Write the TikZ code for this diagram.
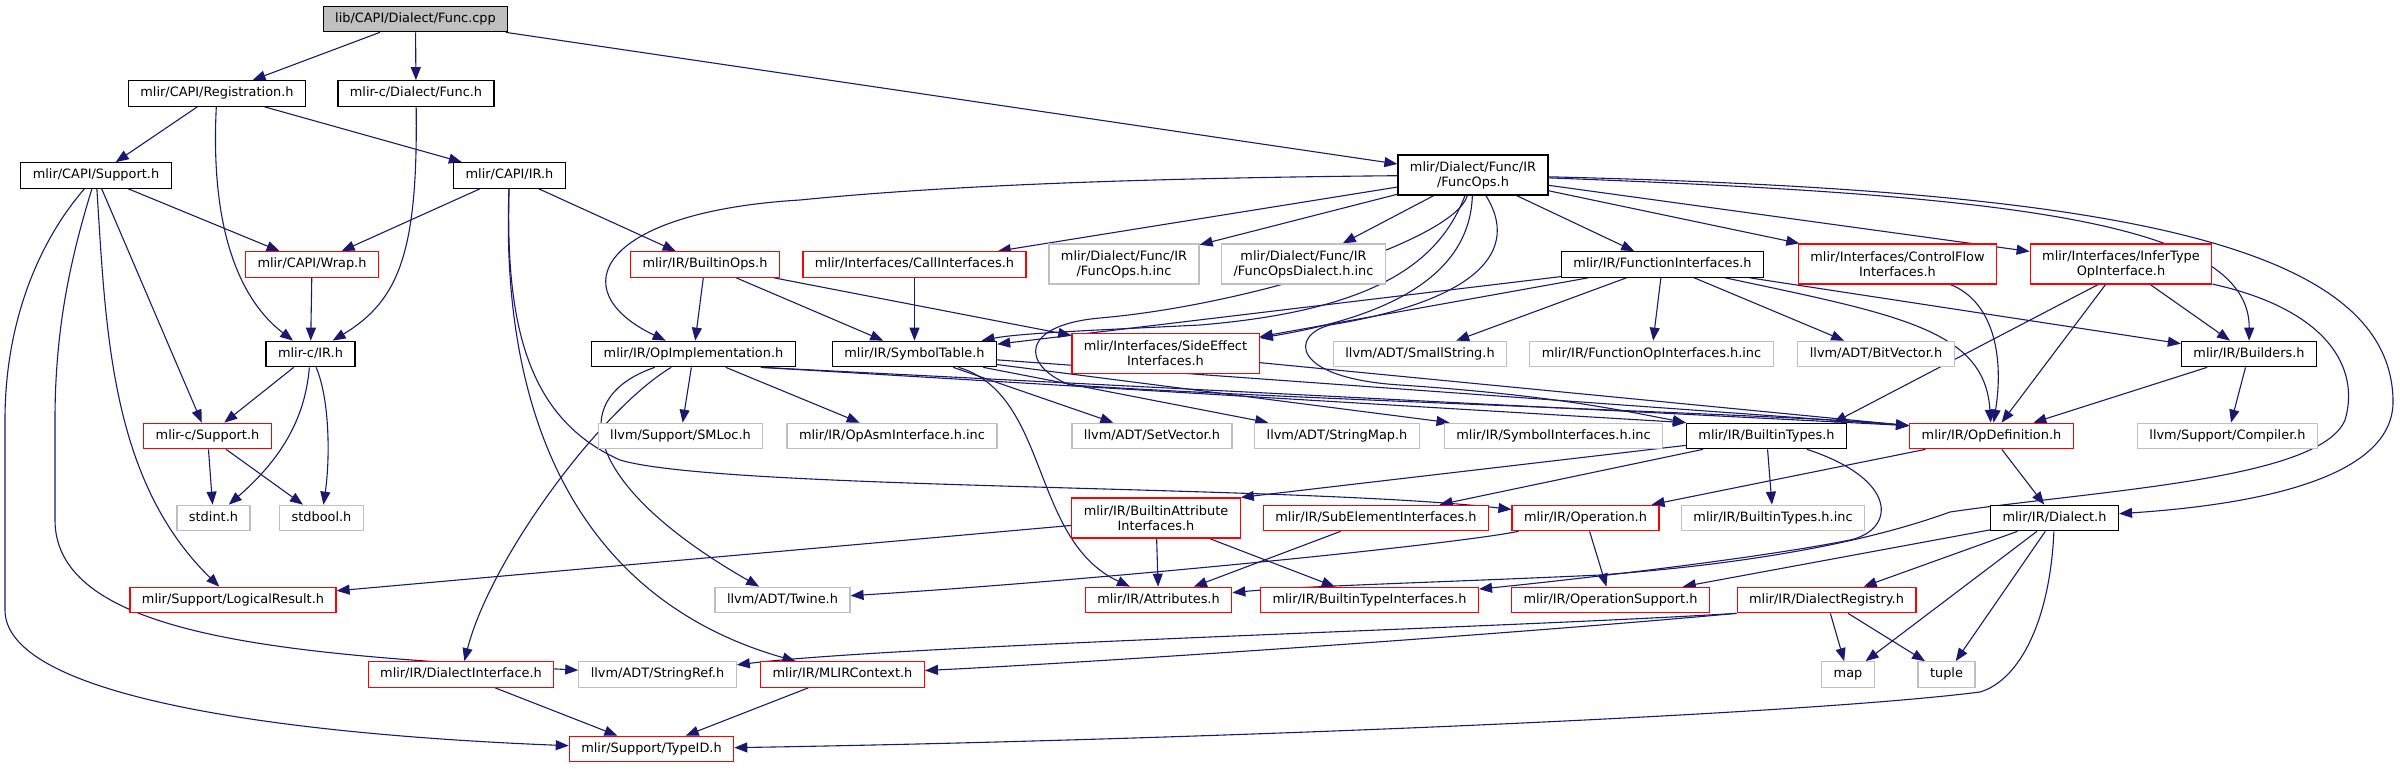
\documentclass[tikz,border=0pt]{standalone}
\usepackage{fontspec}
\setmainfont{DejaVu Sans}
\usetikzlibrary{arrows.meta, backgrounds}
\definecolor{edgeblue}{HTML}{191970}
\definecolor{boxgray}{HTML}{BFBFBF}
\tikzstyle{box} = [rectangle, line width=1.2pt, fill=white, inner xsep=12pt, inner ysep=3pt, minimum height=25.5pt]
\tikzstyle{oneline} = [text height=9.5pt, text depth=3pt]
\tikzstyle{twoline} = [align=center, minimum height=40pt]
\tikzstyle{mainfile} = [box, oneline, draw=black, fill=boxgray]
\tikzstyle{hdr} = [box, draw=black]
\tikzstyle{redhdr} = [box, draw=red]
\tikzstyle{syshdr} = [box, draw=boxgray]
\tikzstyle{arrow} = [line width=1.1pt, draw=edgeblue, -{Triangle[length=13pt,width=10pt]}]

\begin{document}
\begin{tikzpicture}[x=1pt, y=-1pt, font=\fontsize{12.9}{15}\selectfont]
\useasboundingbox (0,0) rectangle (2400,768);

\node (root) [mainfile] at (415.5,19) {lib/CAPI/Dialect/Func.cpp};
\node (reg) [hdr, oneline] at (217,93.5) {mlir/CAPI/Registration.h};
\node (cfunc) [hdr, oneline] at (416,93.5) {mlir-c/Dialect/Func.h};
\node (capisupport) [hdr, oneline] at (96,175.5) {mlir/CAPI/Support.h};
\node (capiir) [hdr, oneline] at (509.5,175.5) {mlir/CAPI/IR.h};
\node (funcops) [hdr, twoline] at (1473,175) {mlir/Dialect/Func/IR\\/FuncOps.h};
\node (wrap) [redhdr, oneline] at (312,264.5) {mlir/CAPI/Wrap.h};
\node (builtinops) [redhdr, oneline] at (705,264.5) {mlir/IR/BuiltinOps.h};
\node (callif) [redhdr, oneline] at (914.5,264.5) {mlir/Interfaces/CallInterfaces.h};
\node (funcopsinc) [syshdr, twoline] at (1124,264) {mlir/Dialect/Func/IR\\/FuncOps.h.inc};
\node (funcdialinc) [syshdr, twoline] at (1303.5,264) {mlir/Dialect/Func/IR\\/FuncOpsDialect.h.inc};
\node (funcif) [hdr, oneline] at (1662.5,264.5) {mlir/IR/FunctionInterfaces.h};
\node (cfif) [redhdr, twoline] at (1897.5,264) {mlir/Interfaces/ControlFlow\\Interfaces.h};
\node (infer) [redhdr, twoline] at (2121,264) {mlir/Interfaces/InferType\\OpInterface.h};
\node (cir) [hdr, oneline] at (310.5,354) {mlir-c/IR.h};
\node (opimpl) [hdr, oneline] at (693.5,354) {mlir/IR/OpImplementation.h};
\node (symtab) [hdr, oneline] at (914.5,354) {mlir/IR/SymbolTable.h};
\node (sideeff) [redhdr, twoline] at (1165.5,353.5) {mlir/Interfaces/SideEffect\\Interfaces.h};
\node (smallstr) [syshdr, oneline] at (1420,354) {llvm/ADT/SmallString.h};
\node (funcopinc) [syshdr, oneline] at (1651.5,354) {mlir/IR/FunctionOpInterfaces.h.inc};
\node (bitvec) [syshdr, oneline] at (1876,354) {llvm/ADT/BitVector.h};
\node (builders) [hdr, oneline] at (2249,354) {mlir/IR/Builders.h};
\node (csupport) [redhdr, oneline] at (207.5,436) {mlir-c/Support.h};
\node (smloc) [syshdr, oneline] at (680.5,436) {llvm/Support/SMLoc.h};
\node (opasminc) [syshdr, oneline] at (892,436) {mlir/IR/OpAsmInterface.h.inc};
\node (setvec) [syshdr, oneline] at (1152,436) {llvm/ADT/SetVector.h};
\node (strmap) [syshdr, oneline] at (1337,436) {llvm/ADT/StringMap.h};
\node (syminc) [syshdr, oneline] at (1553.5,436) {mlir/IR/SymbolInterfaces.h.inc};
\node (btypes) [hdr, oneline] at (1766.5,436) {mlir/IR/BuiltinTypes.h};
\node (opdef) [redhdr, oneline] at (1991.5,436) {mlir/IR/OpDefinition.h};
\node (compiler) [syshdr, oneline] at (2227.5,436) {llvm/Support/Compiler.h};
\node (stdint) [syshdr, oneline] at (213.5,518) {stdint.h};
\node (stdbool) [syshdr, oneline] at (321.5,518) {stdbool.h};
\node (battrif) [redhdr, twoline] at (1156,518) {mlir/IR/BuiltinAttribute\\Interfaces.h};
\node (subel) [redhdr, oneline] at (1376,518) {mlir/IR/SubElementInterfaces.h};
\node (operation) [redhdr, oneline] at (1585.5,518) {mlir/IR/Operation.h};
\node (btypesinc) [syshdr, oneline] at (1773,518) {mlir/IR/BuiltinTypes.h.inc};
\node (dialect) [hdr, oneline] at (2054.5,518) {mlir/IR/Dialect.h};
\node (logres) [redhdr, oneline] at (233,600) {mlir/Support/LogicalResult.h};
\node (twine) [syshdr, oneline] at (782.5,600) {llvm/ADT/Twine.h};
\node (attrs) [redhdr, oneline] at (1158.5,600) {mlir/IR/Attributes.h};
\node (btypeif) [redhdr, oneline] at (1369.5,600) {mlir/IR/BuiltinTypeInterfaces.h};
\node (opsupport) [redhdr, oneline] at (1610.5,600) {mlir/IR/OperationSupport.h};
\node (dialreg) [redhdr, oneline] at (1826.5,600) {mlir/IR/DialectRegistry.h};
\node (dialif) [redhdr, oneline] at (461,674.5) {mlir/IR/DialectInterface.h};
\node (strref) [syshdr, oneline] at (657.5,674.5) {llvm/ADT/StringRef.h};
\node (mlirctx) [redhdr, oneline] at (842.5,674.5) {mlir/IR/MLIRContext.h};
\node (map) [syshdr, oneline] at (1848,674.5) {map};
\node (tuple) [syshdr, oneline] at (1946.5,674.5) {tuple};
\node (typeid) [redhdr, oneline] at (651.5,749) {mlir/Support/TypeID.h};

\begin{scope}[on background layer]
\draw [arrow] (root) -- (reg);
\draw [arrow] (root) -- (cfunc);
\draw [arrow] (root) -- (funcops);

\draw [arrow] (reg) -- (capisupport);
\draw [arrow] (reg) .. controls (210,230) and (240,300) .. (cir);
\draw [arrow] (reg) -- (capiir);
\draw [arrow] (cfunc) .. controls (418,250) and (400,300) .. (cir);

\draw [arrow] (capisupport) -- (wrap);
\draw [arrow] (capisupport) -- (csupport);
\draw [arrow] (capisupport) .. controls (106,330) and (110,480) .. (logres);
\draw [arrow] (capisupport) .. controls (70,260) and (55,330) .. (55,420) -- (55,520) .. controls (55,640) and (300,655) .. (strref);
\draw [arrow] (capisupport) .. controls (40,240) and (5,320) .. (5,420) -- (5,610) .. controls (5,700) and (300,735) .. (typeid);

\draw [arrow] (capiir) -- (wrap);
\draw [arrow] (capiir) -- (builtinops);
\draw [arrow] (capiir) .. controls (500,420) and (580,600) .. (mlirctx);
\draw [arrow] (capiir) .. controls (505,330) and (530,420) .. (620,460) .. controls (720,490) and (1300,485) .. (operation);

\draw [arrow] (wrap) -- (cir);
\draw [arrow] (builtinops) -- (opimpl);
\draw [arrow] (builtinops) -- (symtab);
\draw [arrow] (builtinops) -- (sideeff);
\draw [arrow] (callif) -- (symtab);

\draw [arrow] (funcops) .. controls (1150,178) and (950,185) .. (800,200) .. controls (600,212) and (560,290) .. (opimpl);
\draw [arrow] (funcops) -- (callif);
\draw [arrow] (funcops) -- (funcopsinc);
\draw [arrow] (funcops) -- (funcdialinc);
\draw [arrow] (funcops) .. controls (1440,260) and (1380,310) .. (1200,325) .. controls (1100,330) and (1020,333) .. (symtab);
\draw [arrow] (funcops) .. controls (1470,270) and (1400,315) .. (sideeff);
\draw [arrow] (funcops) .. controls (1520,250) and (1480,300) .. (1330,325) .. controls (1290,335) and (1290,378) .. (1400,385) .. controls (1550,395) and (1620,410) .. (btypes.north west);
\draw [arrow] (funcops) .. controls (1455,240) and (1250,305) .. (1100,318) .. controls (1020,325) and (1020,365) .. (1070,385) .. controls (1300,400) and (1800,415) .. ([yshift=-3pt]opdef.north west);
\draw [arrow] (funcops) -- (funcif);
\draw [arrow] (funcops) -- (cfif);
\draw [arrow] (funcops) -- (infer);
\draw [arrow] (funcops) .. controls (2000,195) and (2250,220) .. (builders);
\draw [arrow] (funcops) .. controls (2100,190) and (2390,240) .. (2393,400) .. controls (2395,480) and (2250,505) .. (dialect);

\draw [arrow] (funcif) -- (symtab);
\draw [arrow] (funcif) -- (sideeff);
\draw [arrow] (funcif) -- (smallstr);
\draw [arrow] (funcif) -- (funcopinc);
\draw [arrow] (funcif) -- (bitvec);
\draw [arrow] (funcif) -- (builders);
\draw [arrow] (funcif) .. controls (1900,315) and (1985,330) .. (opdef);
\draw [arrow] (cfif) .. controls (1990,300) and (2005,350) .. (opdef);

\draw [arrow] (infer) -- (builders);
\draw [arrow] (infer) -- (opdef);
\draw [arrow] ([xshift=-23pt]infer.south) -- ([xshift=67pt]btypes.north);
\draw [arrow] (infer) .. controls (2330,310) and (2360,370) .. (2345,420) .. controls (2320,480) and (2100,490) .. (1950,512) .. controls (1900,530) and (1800,560) .. (1600,575) .. controls (1450,582) and (1300,586) .. (attrs);

\draw [arrow] (cir) -- (csupport);
\draw [arrow] (cir) .. controls (305,420) and (280,460) .. (stdint);
\draw [arrow] (cir) .. controls (330,400) and (330,460) .. (stdbool);
\draw [arrow] (csupport) -- (stdint);
\draw [arrow] (csupport) -- (stdbool);

\draw [arrow] (opimpl) -- (smloc);
\draw [arrow] (opimpl) -- (opasminc);
\draw [arrow] (opimpl) .. controls (600,410) and (490,560) .. (dialif);
\draw [arrow] (opimpl) .. controls (560,400) and (590,490) .. (twine);
\draw [arrow] ([xshift=-35pt]opimpl.south east) -- (btypes.north west);
\draw [arrow] ([xshift=-35pt]opimpl.south east) -- ([yshift=-3pt]opdef.north west);

\draw [arrow] (symtab) .. controls (1050,395) and (1030,540) .. (attrs);
\draw [arrow] (symtab) -- (setvec);
\draw [arrow] (symtab) -- (strmap);
\draw [arrow] (symtab) -- (syminc);
\draw [arrow] (symtab) -- ([yshift=-3pt]opdef.north west);
\draw [arrow] (sideeff) -- ([yshift=-3pt]opdef.north west);

\draw [arrow] (builders) -- (opdef);
\draw [arrow] (builders) -- (compiler);
\draw [arrow] (opdef) -- (operation);
\draw [arrow] (opdef) -- (dialect);

\draw [arrow] (btypes) -- (battrif.north east);
\draw [arrow] (btypes) -- (subel);
\draw [arrow] (btypes) -- (btypesinc);
\draw [arrow] (btypes) .. controls (1900,480) and (1895,530) .. (1850,540) .. controls (1750,560) and (1550,582) .. (btypeif);

\draw [arrow] (operation) .. controls (1450,545) and (1100,580) .. (twine);
\draw [arrow] (operation) -- (opsupport);
\draw [arrow] (battrif) -- (attrs);
\draw [arrow] (battrif) -- (btypeif);
\draw [arrow] (battrif) -- (logres);
\draw [arrow] (subel) -- (attrs);

\draw [arrow] (dialect) -- (opsupport);
\draw [arrow] (dialect) -- (dialreg);
\draw [arrow] (dialect) -- (map);
\draw [arrow] (dialect) -- (tuple);
\draw [arrow] (dialect) .. controls (2050,620) and (2020,680) .. (1980,692) .. controls (1800,715) and (1200,740) .. (typeid);

\draw [arrow] (dialreg) -- (map);
\draw [arrow] (dialreg) -- (tuple);
\draw [arrow] (dialreg.south west) .. controls (1500,628) and (900,645) .. (strref);
\draw [arrow] (dialreg.south west) .. controls (1500,635) and (1100,662) .. (mlirctx);

\draw [arrow] (mlirctx) -- (typeid);
\draw [arrow] (dialif) -- (typeid);
\end{scope}

\end{tikzpicture}
\end{document}
